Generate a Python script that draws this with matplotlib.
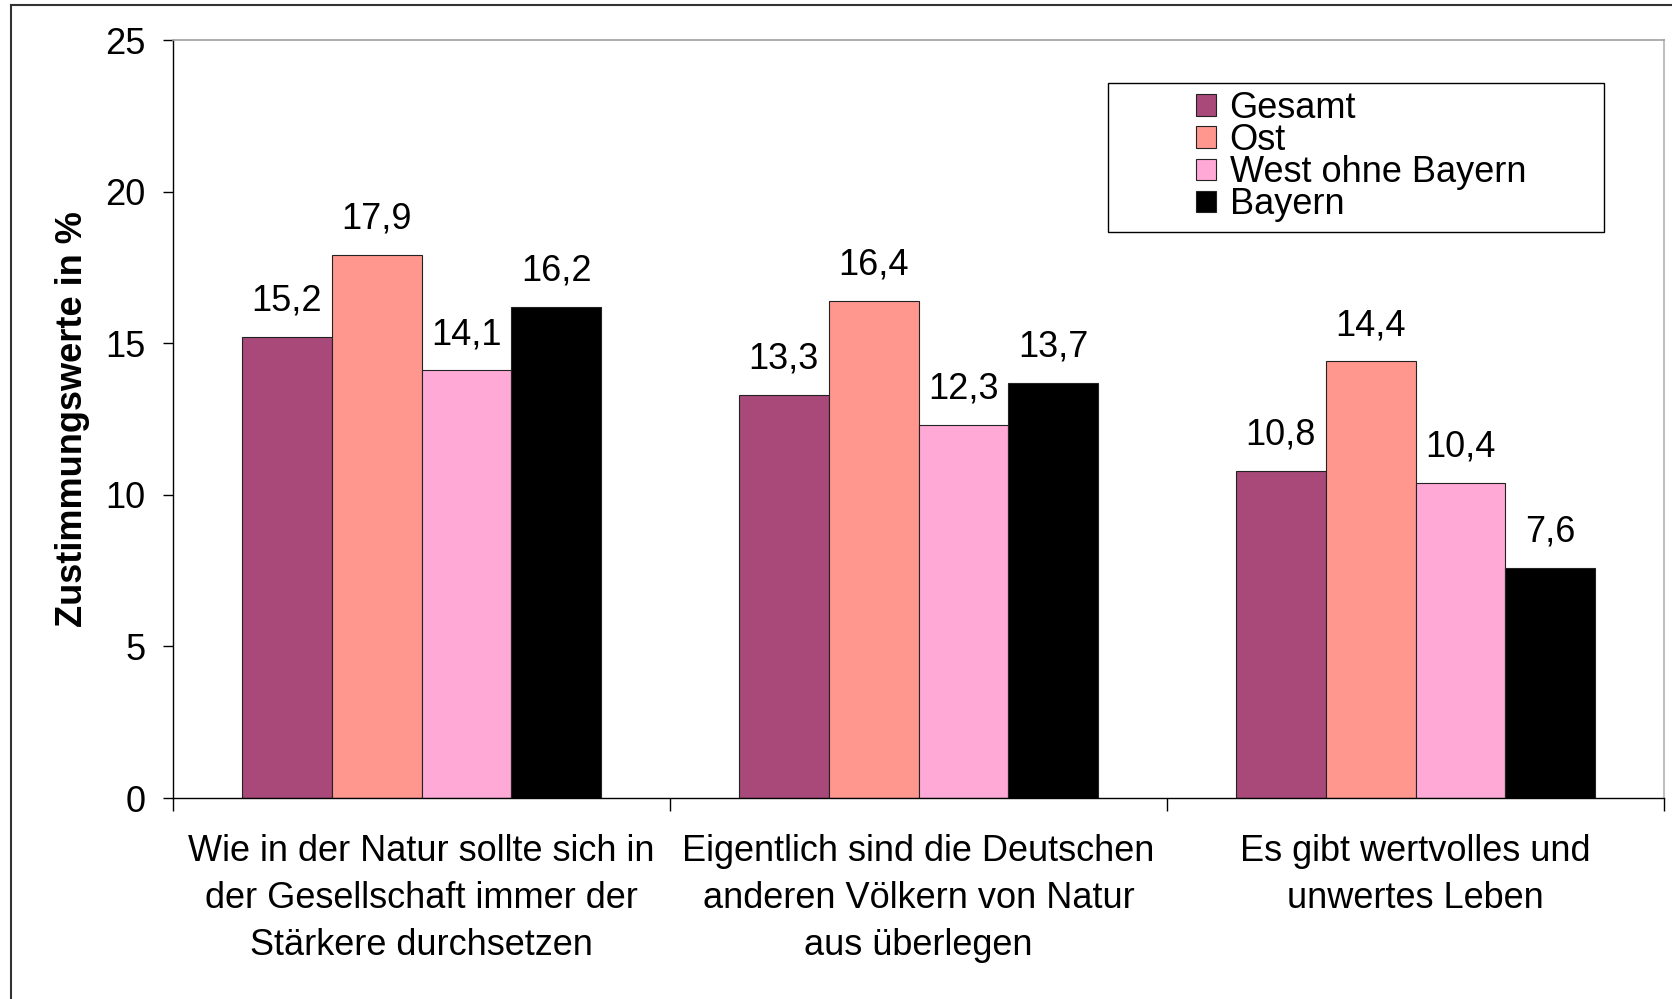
import matplotlib
matplotlib.use("Agg")
import matplotlib.pyplot as plt
from matplotlib.lines import Line2D
from matplotlib.patches import Rectangle
import numpy as np

categories = [
    "Wie in der Natur sollte sich in\nder Gesellschaft immer der\nStärkere durchsetzen",
    "Eigentlich sind die Deutschen\nanderen Völkern von Natur\naus überlegen",
    "Es gibt wertvolles und\nunwertes Leben",
]
series_names = ["Gesamt", "Ost", "West ohne Bayern", "Bayern"]
gesamt = [15.2, 13.3, 10.8]
ost = [17.9, 16.4, 14.4]
west = [14.1, 12.3, 10.4]
bayern = [16.2, 13.7, 7.6]
colors = ["#A8497A", "#FF978F", "#FFAAD6", "#000000"]
yticks = [0, 5, 10, 15, 20, 25]

plt.rcParams['font.family'] = ['Liberation Sans', 'DejaVu Sans']

W, H = 1672, 999
fig = plt.figure(figsize=(W / 100, H / 100), dpi=100)
ax = fig.add_axes([173 / W, 1 - 798 / H, (1664 - 173) / W, (798 - 40) / H])

x = np.arange(len(categories))
bw = 0.181
data = [gesamt, ost, west, bayern]
for i, (vals, name, c) in enumerate(zip(data, series_names, colors)):
    pos = x + (i - 1.5) * bw
    bars = ax.bar(pos, vals, width=bw, color=c, edgecolor="#222222", linewidth=0.8, label=name)
    for b, v in zip(bars, vals):
        ax.annotate(f"{v:.1f}".replace(".", ","), (b.get_x() + b.get_width() / 2, v),
                    xytext=(0, 19), textcoords="offset points", ha="center", va="baseline",
                    fontsize=26)

ax.set_xlim(-0.5, len(categories) - 0.5)
ax.set_ylim(0, 25)
ax.set_yticks(yticks)
ax.set_yticklabels([str(t) for t in yticks], fontsize=26)
ax.tick_params(axis="y", direction="out", length=7, width=1, pad=13)

ax.set_xticks(np.arange(len(categories) + 1) - 0.5)
ax.set_xticklabels([])
ax.tick_params(axis="x", direction="out", length=9, width=1)
for xi, lab in zip(x, categories):
    ax.text(xi, -1.2, lab, ha="center", va="top", fontsize=26, linespacing=1.43,
            transform=ax.transData)

ax.set_ylabel("Zustimmungswerte in %", fontsize=26, fontweight="bold")
ax.yaxis.set_label_coords(-0.056, 0.5)

for s in ["left", "bottom"]:
    ax.spines[s].set_color("black")
    ax.spines[s].set_linewidth(1)
ax.spines["top"].set_color("#a0a0a0")
ax.spines["right"].set_color("#c0c0c0")
ax.spines["top"].set_linewidth(1.2)
ax.spines["right"].set_linewidth(1.5)

# legend frame (Excel style, wide box with entries inset)
fig.add_artist(Rectangle((1108 / W, 1 - 232 / H), (1604 - 1108) / W, (232 - 83) / H,
                         transform=fig.transFigure, facecolor="white", edgecolor="black",
                         linewidth=1, zorder=4))
leg = fig.legend(*ax.get_legend_handles_labels(), loc="upper left",
                 bbox_to_anchor=(1196 / W, 1 - 91 / H), bbox_transform=fig.transFigure,
                 fontsize=26, frameon=False,
                 handlelength=0.55, handleheight=0.55, handletextpad=0.38, labelspacing=-0.08,
                 borderpad=0, borderaxespad=0)
leg.set_zorder(5)

# figure outer frame
fig.add_artist(Line2D([11 / W, 11 / W], [0, 1 - 5 / H], color="#333333", linewidth=1.5, transform=fig.transFigure))
fig.add_artist(Line2D([11 / W, 1], [1 - 5 / H, 1 - 5 / H], color="#333333", linewidth=1.5, transform=fig.transFigure))

fig.savefig("out.png", dpi=100)
